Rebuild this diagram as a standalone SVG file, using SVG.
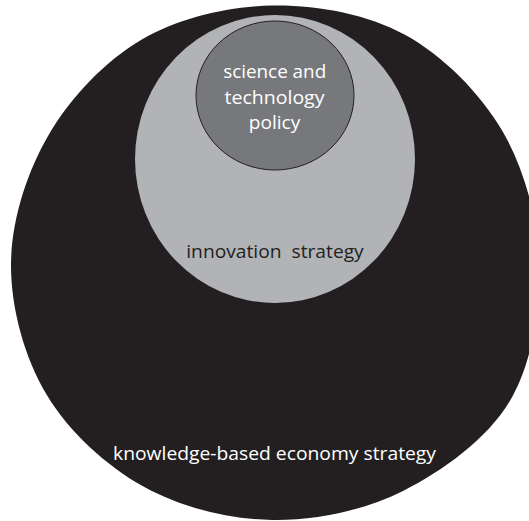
<svg xmlns="http://www.w3.org/2000/svg" width="529" height="521" viewBox="0 0 529 521">
  <style>
    .lbl { font-family: "Open Sans", "Noto Sans", "DejaVu Sans", sans-serif; font-size: 18.5px; text-anchor: middle; }
    .light { fill: #ffffff; }
    .dark { fill: #231f20; }
  </style>
  <rect x="0" y="0" width="529" height="521" fill="#ffffff"/>
  <g id="knowledge-economy">
    <path fill="#231f20" d="M 272 5.5 C 315.71 4.7 366.1 13.58 404.5 34.5 C 442.9 55.42 479.98 92.75 502.4 131 C 524.82 169.25 537.78 218.96 539 264 C 540.22 309.04 532.37 363.43 509.7 401.25 C 487.03 439.07 442.62 471.11 403 490.9 C 363.38 510.69 315.25 520.72 272 520 C 228.75 519.28 181.1 507.56 143.5 486.6 C 105.9 465.64 68.48 431.35 46.4 394.25 C 24.32 357.15 10.63 307.21 11 264 C 11.37 220.79 26.72 172.45 48.6 135 C 70.48 97.55 105.02 60.88 142.25 39.3 C 179.48 17.72 228.29 6.3 272 5.5 Z"/>
    <text class="lbl light" x="274.5" y="459.5" textLength="323" lengthAdjust="spacingAndGlyphs">knowledge-based economy strategy</text>
  </g>
  <g id="innovation-strategy">
    <ellipse cx="275" cy="159" rx="140" ry="144" fill="#b1b3b6"/>
    <text class="lbl dark" x="275" y="258" textLength="177.5" lengthAdjust="spacingAndGlyphs" xml:space="preserve">innovation  strategy</text>
  </g>
  <g id="science-technology-policy">
    <ellipse cx="275" cy="95.5" rx="79" ry="74.5" fill="#77787b" stroke="#231f20" stroke-width="1"/>
    <text class="lbl light" x="274.7" y="78" textLength="103" lengthAdjust="spacingAndGlyphs">science and</text>
    <text class="lbl light" x="274.5" y="103.5" textLength="100" lengthAdjust="spacingAndGlyphs">technology</text>
    <text class="lbl light" x="274.5" y="129" textLength="51.6" lengthAdjust="spacingAndGlyphs">policy</text>
  </g>
  <g id="connectors"/>
</svg>
